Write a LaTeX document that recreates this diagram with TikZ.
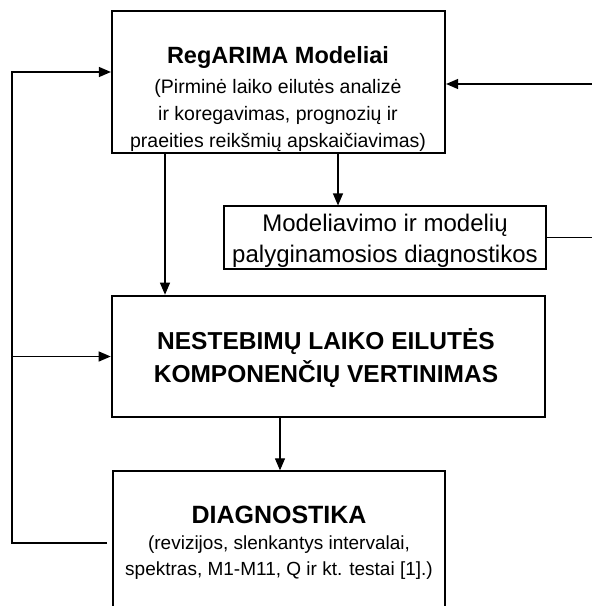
\documentclass[tikz,border=0pt]{standalone}
\usepackage{fontspec}
\setmainfont{Liberation Sans}
\usetikzlibrary{arrows.meta}

\begin{document}
\begin{tikzpicture}[x=1pt, y=-1pt,
  thickbox/.style={draw, line width=2.2pt, inner sep=0pt},
  thinbox/.style={draw, line width=1.1pt, inner sep=0pt},
  txt/.style={align=center, inner sep=0pt, anchor=north},
  conn/.style={line width=1.2pt, -{Triangle[length=12pt, width=10pt]}}]
\useasboundingbox (0,0) rectangle (592,606);

% Boxes
\node[thickbox, minimum width=333pt, minimum height=142pt] (reg) at (278.5,82) {};
\node[thinbox, minimum width=322pt, minimum height=63pt] (cmp) at (385,237.5) {};
\node[thickbox, line width=2.6pt, minimum width=433pt, minimum height=121pt] (est) at (328.5,356.5) {};
\node[thinbox, line width=1.3pt, minimum width=332pt, minimum height=190pt] (diag) at (279,566) {};

% Texts
\node[txt, font=\fontsize{19.5}{27}\selectfont] (regtxt) at (278,46)
  {{\bfseries\fontsize{23.5}{27}\selectfont RegARIMA Modeliai}\\[3pt]
   (Pirminė laiko eilutės analizė\\
   ir koregavimas, prognozių ir\\
   praeities reikšmių apskaičiavimas)};
\node[txt, font=\fontsize{24}{31}\selectfont] (cmptxt) at (385,213.5)
  {Modeliavimo ir modelių\\ palyginamosios diagnostikos};
\node[txt, font=\bfseries\fontsize{24.5}{33}\selectfont] (esttxt) at (326,328)
  {NESTEBIMŲ LAIKO EILUTĖS\\ KOMPONENČIŲ VERTINIMAS};
\node[txt, font=\fontsize{19}{26}\selectfont] (diagtxt) at (279,506)
  {{\bfseries\fontsize{25}{26}\selectfont DIAGNOSTIKA}\\
   (revizijos, slenkantys intervalai,\\
   spektras, M1-M11, Q ir kt. testai [1].)};

% Helper points
\coordinate (c1) at (165,0);
\coordinate (c2) at (338,0);
\coordinate (c3) at (280,0);
\coordinate (rt) at (597,0);
\coordinate (lt) at (12,0);
\coordinate (r1) at (0,84);
\coordinate (l1) at (0,72);
\coordinate (dout) at (107,543);

% Connectors
\draw[conn] (reg.south -| c1) -- (est.north -| c1);
\draw[conn] (reg.south -| c2) -- (cmp.north -| c2);
\draw[conn] (est.south -| c3) -- (diag.north -| c3);
\draw[conn] (cmp.east) -- (cmp.east -| rt) -- (rt |- r1) -- (reg.east |- r1);
\draw[conn] (dout) -- (dout -| lt) -- (lt |- l1) -- (reg.west |- l1);
\draw[conn] (lt |- est.west) -- (est.west);

\end{tikzpicture}
\end{document}
